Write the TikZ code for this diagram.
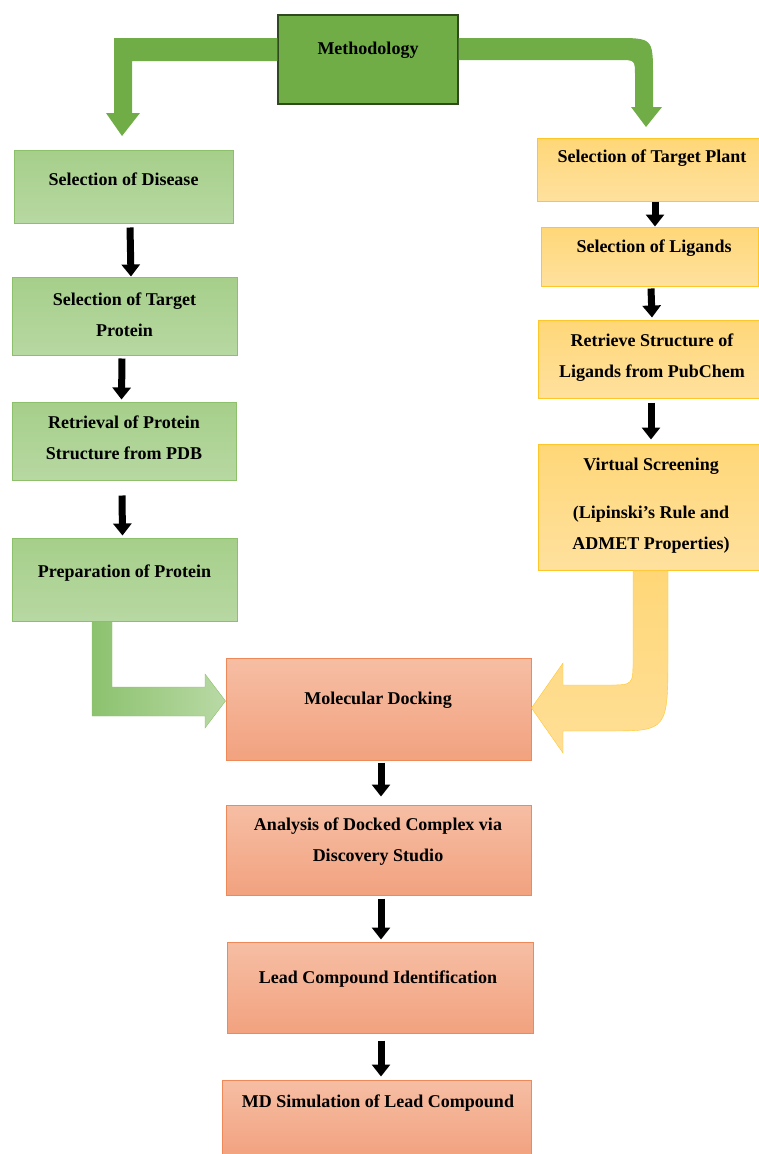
\documentclass[tikz,border=0pt]{standalone}
\usepackage{fontspec}
\setmainfont{Liberation Serif}
\usetikzlibrary{arrows.meta}

\definecolor{methgreen}{HTML}{70AD47}
\definecolor{methline}{HTML}{2F4A1E}
\definecolor{gtop}{HTML}{A6CF8A}
\definecolor{gbot}{HTML}{B7D8A2}
\definecolor{gline}{HTML}{8DC06B}
\definecolor{gleft}{HTML}{8CC26E}
\definecolor{gright}{HTML}{B9D9A5}
\definecolor{ytop}{HTML}{FFD778}
\definecolor{ybot}{HTML}{FFE19E}
\definecolor{yline}{HTML}{FFC62A}
\definecolor{stop}{HTML}{F6BEA4}
\definecolor{sbot}{HTML}{F2A27F}
\definecolor{sline}{HTML}{EE8A5A}

\begin{document}
\begin{tikzpicture}
[
    x=1pt, y=-1pt,
    box/.style={inner sep=0pt, line width=1pt},
    gbox/.style={box, top color=gtop, bottom color=gbot, draw=gline},
    ybox/.style={box, top color=ytop, bottom color=ybot, draw=yline},
    sbox/.style={box, top color=stop, bottom color=sbot, draw=sline},
    txt/.style={align=center, font=\bfseries\fontsize{18}{31}\selectfont},
    blk/.style={line width=7pt, -{Triangle[width=18pt,length=12pt]}},
]
\useasboundingbox (0,0) rectangle (759,1154);

\node [box, fill=methgreen, draw=methline, line width=1.3pt,
    minimum width=180pt, minimum height=89pt] (meth) at (368,59.5) {};
\node [txt] (meth-t) at (368,50) {Methodology};

\node [gbox, minimum width=219pt, minimum height=73pt] (dis) at (123.5,186.5) {};
\node [txt] (dis-t) at (123.5,179) {Selection of Disease};
\node [gbox, minimum width=225pt, minimum height=78pt] (prot) at (124.5,316) {};
\node [txt] (prot-t) at (124.5,315) {Selection of Target\\Protein};
\node [gbox, minimum width=224pt, minimum height=78pt] (pdb) at (124,441) {};
\node [txt] (pdb-t) at (124,438) {Retrieval of Protein\\Structure from PDB};
\node [gbox, minimum width=225pt, minimum height=83pt] (prep) at (124.5,579.5) {};
\node [txt] (prep-t) at (124.5,573) {Preparation of Protein};

\node [ybox, minimum width=225pt, minimum height=63pt] (plant) at (649.5,169.5) {};
\node [txt] (plant-t) at (652,158) {Selection of Target Plant};
\node [ybox, minimum width=217pt, minimum height=59pt] (lig) at (649.5,256.5) {};
\node [txt] (lig-t) at (654,248) {Selection of Ligands};
\node [ybox, minimum width=225pt, minimum height=78pt] (pub) at (650.5,359) {};
\node [txt] (pub-t) at (652,358) {Retrieve Structure of\\Ligands from PubChem};
\node [ybox, minimum width=225pt, minimum height=126pt] (vs) at (650.5,507) {};
\node [txt] (vs-t) at (651,506) {Virtual Screening\\[17pt](Lipinski’s Rule and\\ADMET Properties)};

\node [sbox, minimum width=305pt, minimum height=102pt] (dock) at (378.5,709) {};
\node [txt] (dock-t) at (378,700) {Molecular Docking};
\node [sbox, minimum width=305pt, minimum height=90pt] (anal) at (378.5,850) {};
\node [txt] (anal-t) at (378,842) {Analysis of Docked Complex via\\Discovery Studio};
\node [sbox, minimum width=306pt, minimum height=91pt] (lead) at (380,987.5) {};
\node [txt] (lead-t) at (378,979) {Lead Compound Identification};
\node [sbox, minimum width=309pt, minimum height=76pt] (md) at (376.5,1118) {};
\node [txt] (md-t) at (378,1103) {MD Simulation of Lead Compound};

\fill [methgreen] (meth.west |- 0,38) -- (114,38) -- (114,113) -- (106,113)
    -- (122,136) -- (140,113) -- (132,113) -- (132,61) -- (meth.west |- 0,61) -- cycle;
\fill [methgreen] (meth.east |- 0,38) -- (615,38) .. controls (653,38) .. (653,76)
    -- (653,107) -- (662,107) -- (646,127) -- (631,107) -- (635,107) -- (635,76)
    .. controls (635,60) .. (619,60) -- (meth.east |- 0,60) -- cycle;

\draw [draw=gline, left color=gleft, right color=gright] (92,0 |- prep.south) -- (92,716) -- (205,716)
    -- (205,728) -- (dock.west |- 0,701) -- (205,674) -- (205,687) -- (112,687)
    -- (112,0 |- prep.south) -- cycle;
\draw [draw=yline, top color=ytop, bottom color=ybot!80!ytop] (668,0 |- vs.south) -- (668,652)
    .. controls (668,731) .. (608,731) -- (563,731) -- (563,753) -- (dock.east |- 0,708)
    -- (563,663) -- (563,685) -- (608,685) .. controls (633,685) .. (633,660)
    -- (633,0 |- vs.south) -- cycle;

\draw [blk] ([xshift=6.5pt,yshift=-4pt]dis.south) -- ([xshift=6.5pt]prot.north);
\draw [blk] ([xshift=-2.5pt,yshift=-3pt]prot.south) -- ([xshift=-2.5pt,yshift=2pt]pdb.north);
\draw [blk] ([xshift=-2pt,yshift=-15pt]pdb.south) -- ([xshift=-2pt,yshift=2pt]prep.north);
\draw [blk] ([xshift=5.5pt]plant.south) -- ([xshift=5.5pt]lig.north);
\draw [blk] ([xshift=1.5pt,yshift=-2pt]lig.south) -- ([xshift=1.5pt,yshift=2pt]pub.north);
\draw [blk] ([xshift=0.5pt,yshift=-4pt]pub.south) -- ([xshift=0.5pt,yshift=4pt]vs.north);
\draw [blk] ([xshift=2.5pt,yshift=-2pt]dock.south) -- ([xshift=2.5pt,yshift=8pt]anal.north);
\draw [blk] ([xshift=2.5pt,yshift=-3pt]anal.south) -- ([xshift=1pt,yshift=2pt]lead.north);
\draw [blk] ([xshift=1pt,yshift=-7pt]lead.south) -- ([xshift=4.5pt,yshift=3pt]md.north);
\end{tikzpicture}
\end{document}
